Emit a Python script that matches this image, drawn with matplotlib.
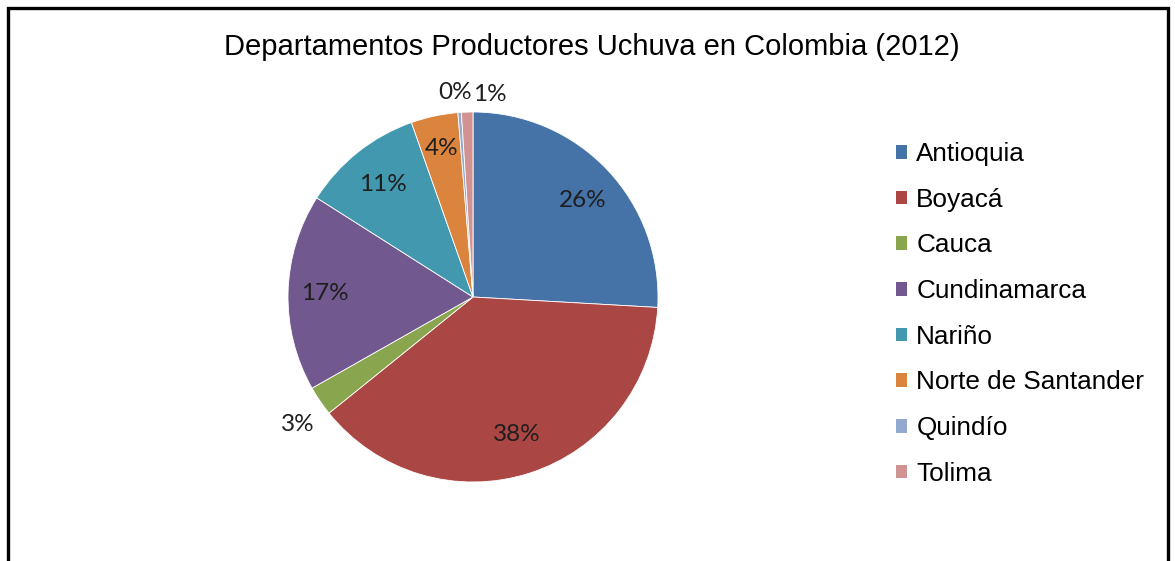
import numpy as np
import matplotlib
matplotlib.use("Agg")
import matplotlib.pyplot as plt
from matplotlib.patches import Rectangle, Patch

# Data
departamentos = ["Antioquia", "Boyacá", "Cauca", "Cundinamarca", "Nariño",
                 "Norte de Santander", "Quindío", "Tolima"]
porcentajes = [25.9, 38.3, 2.6, 17.2, 10.6, 4.1, 0.3, 1.0]
colores = ["#4572A7", "#AA4643", "#89A54E", "#71588F", "#4198AF",
           "#DB843D", "#93A9CF", "#D19392"]

# label placement (radius factor, angle nudge in degrees)
label_r = [0.79, 0.78, 1.17, 0.80, 0.78, 0.82, 1.11, 1.10]
label_nudge = [-2, 0, 1.8, 0, 0, 0, 1, -6.5]

W, H = 1175, 561
fig = plt.figure(figsize=(W / 100, H / 100), dpi=100)

# axes so pie centre lands at (473, 297) with radius 185 px
cx, cy, R = 473, 297, 185
ax = fig.add_axes([(cx - R) / W, (H - cy - R) / H, 2 * R / W, 2 * R / H])

wedges, _ = ax.pie(porcentajes, colors=colores, startangle=90, counterclock=False,
                   radius=1.0, wedgeprops=dict(linewidth=0.6, edgecolor="white"))
ax.set_xlim(-1, 1)
ax.set_ylim(-1, 1)
ax.set_aspect("equal")
ax.axis("off")

for w, val, r, nd in zip(wedges, porcentajes, label_r, label_nudge):
    ang = np.deg2rad((w.theta1 + w.theta2) / 2 + nd)
    ax.text(r * np.cos(ang), r * np.sin(ang), f"{val:.0f}%", ha="center", va="center",
            fontsize=17.5, family="Lato", color="#1e1e1e")

fig.text(592 / W, 1 - 47 / H, "Departamentos Productores Uchuva en Colombia (2012)",
         ha="center", va="center", fontsize=21, family="Liberation Sans")

handles = [Patch(facecolor=c, edgecolor="none") for c in colores]
fig.legend(handles, departamentos, loc="upper left",
           bbox_to_anchor=(896 / W, 1 - 142 / H), frameon=False,
           prop={"family": "Liberation Sans", "size": 18.8},
           handlelength=0.43, handleheight=0.43, handletextpad=0.35,
           labelspacing=0.83, borderpad=0, borderaxespad=0)

# outer frame (bottom edge is cut off in the original)
fig.patches.append(Rectangle((7.5 / W, -0.05), (W - 15) / W, 1.05 - 7.5 / H,
                             transform=fig.transFigure, fill=False,
                             edgecolor="black", linewidth=2.4))

fig.savefig("out.png", dpi=100)
